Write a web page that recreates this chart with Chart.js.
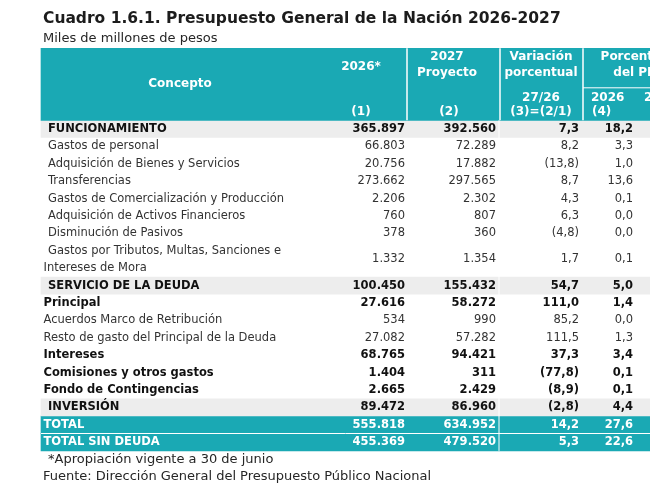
<!DOCTYPE html>
<html lang="es">
<head>
<meta charset="utf-8">
<script src="https://cdn.jsdelivr.net/npm/chart.js@4.4.1/dist/chart.umd.min.js"></script>
<style>
  html, body { margin: 0; padding: 0; background: #fff; }
  #cuadro { display: block; }
</style>
</head>
<body>
<canvas id="cuadro" width="650" height="487"></canvas>
<script>
// Datos del cuadro (miles de millones de pesos)
const conceptos = [
  "FUNCIONAMIENTO",
  "Gastos de personal",
  "Adquisición de Bienes y Servicios",
  "Transferencias",
  "Gastos de Comercialización y Producción",
  "Adquisición de Activos Financieros",
  "Disminución de Pasivos",
  "Gastos por Tributos, Multas, Sanciones e\nIntereses de Mora",
  "SERVICIO DE LA DEUDA",
  "Principal",
  "Acuerdos Marco de Retribución",
  "Resto de gasto del Principal de la Deuda",
  "Intereses",
  "Comisiones y otros gastos",
  "Fondo de Contingencias",
  "INVERSIÓN",
  "TOTAL",
  "TOTAL SIN DEUDA",
];
const valores2026 = [365897, 66803, 20756, 273662, 2206, 760, 378, 1332, 100450, 27616, 534, 27082, 68765, 1404, 2665, 89472, 555818, 455369];
const valores2027 = [392560, 72289, 17882, 297565, 2302, 807, 360, 1354, 155432, 58272, 990, 57282, 94421, 311, 2429, 86960, 634952, 479520];
const variacion = [7.3, 8.2, -13.8, 8.7, 4.3, 6.3, -4.8, 1.7, 54.7, 111.0, 85.2, 111.5, 37.3, -77.8, -8.9, -2.8, 14.2, 5.3];
const pib2026 = [18.2, 3.3, 1.0, 13.6, 0.1, 0.0, 0.0, 0.1, 5.0, 1.4, 0.0, 1.3, 3.4, 0.1, 0.1, 4.4, 27.6, 22.6];

// estilo de cada fila
const tipoFila = ["seccion", "item", "item", "item", "item", "item", "item", "item",
  "seccion", "negrita", "sub", "sub", "negrita", "negrita", "negrita", "seccion", "total", "total"];

const titulo = "Cuadro 1.6.1. Presupuesto General de la Nación 2026-2027";
const subtitulo = "Miles de millones de pesos";
const notas = ["*Apropiación vigente a 30 de junio", "Fuente: Dirección General del Presupuesto Público Nacional"];

// layout
const ANCHO = 650, ALTO = 487;
const ALTO_FILA = 17.4, Y_PRIMERA = 129, ALTO_CAB = 72;
const X_TABLA = 41, X_FIN = 650;
const TEAL = "#1aa9b4";
const FUENTE = "'DejaVu Sans', Verdana, sans-serif";

const miles = (v) => String(v).replace(/\B(?=(\d{3})+(?!\d))/g, ".");
const pct = (v) => {
  const s = Math.abs(v).toFixed(1).replace(".", ",");
  return v < 0 ? `(${s})` : s;
};

// posicion (en filas) de cada concepto
let cursor = 0;
const filas = conceptos.map((c) => {
  const n = c.split("\n").length;
  const centro = cursor + (n - 1) / 2;
  cursor += n;
  return centro;
});

const yMin = -Y_PRIMERA / ALTO_FILA;
const yMax = yMin + ALTO / ALTO_FILA;
const centroCab = -0.5 - ALTO_CAB / ALTO_FILA / 2;

const columnas = [
  { x: 405, textos: valores2026.map(miles) },
  { x: 496, textos: valores2027.map(miles) },
  { x: 579, textos: variacion.map(pct) },
  { x: 633, textos: pib2026.map(pct) },
];

const encabezado = [
  { t: "Concepto", x: 180, dy: 36, a: "center" },
  { t: "2026*", x: 361, dy: 19, a: "center" },
  { t: "(1)", x: 361, dy: 64, a: "center" },
  { t: "2027", x: 447, dy: 9, a: "center" },
  { t: "Proyecto", x: 447, dy: 25, a: "center" },
  { t: "(2)", x: 449, dy: 64, a: "center" },
  { t: "Variación", x: 541, dy: 9, a: "center" },
  { t: "porcentual", x: 541, dy: 25, a: "center" },
  { t: "27/26", x: 541, dy: 50, a: "center" },
  { t: "(3)=(2/1)", x: 541, dy: 64, a: "center" },
  { t: "Porcentaje", x: 637, dy: 9, a: "center" },
  { t: "del PIB", x: 637, dy: 25, a: "center" },
  { t: "2026", x: 591, dy: 50, a: "left" },
  { t: "(4)", x: 592, dy: 64, a: "left" },
  { t: "2027", x: 644, dy: 50, a: "left" },
];

const textoTabla = {
  id: "textoTabla",
  afterDatasetsDraw(chart) {
    const { ctx, scales } = chart;
    const px = (v) => scales.x.getPixelForValue(v);
    const py = (v) => scales.y.getPixelForValue(v);
    const topCab = py(-0.5) - ALTO_CAB;
    const ultima = filas[filas.length - 1];
    ctx.save();

    // lineas blancas del encabezado
    ctx.strokeStyle = "#ffffff";
    ctx.lineWidth = 1.5;
    [407, 500, 583].forEach((x) => {
      ctx.beginPath();
      ctx.moveTo(px(x), topCab);
      ctx.lineTo(px(x), py(-0.5));
      ctx.stroke();
    });
    ctx.lineWidth = 1;
    ctx.beginPath();
    ctx.moveTo(px(583), topCab + 39.5);
    ctx.lineTo(px(X_FIN), topCab + 39.5);
    ctx.stroke();
    // separador en el cuerpo
    ctx.beginPath();
    ctx.moveTo(px(499), py(-0.5));
    ctx.lineTo(px(499), py(ultima + 0.5));
    ctx.stroke();
    ctx.beginPath();
    ctx.moveTo(px(X_TABLA), py(ultima - 0.5));
    ctx.lineTo(px(X_FIN), py(ultima - 0.5));
    ctx.stroke();

    // encabezado
    ctx.fillStyle = "#ffffff";
    ctx.font = `bold 12px ${FUENTE}`;
    ctx.textBaseline = "middle";
    encabezado.forEach((h) => {
      ctx.textAlign = h.a;
      ctx.fillText(h.t, px(h.x), topCab + h.dy);
    });

    // filas
    conceptos.forEach((c, i) => {
      const tipo = tipoFila[i];
      const negrita = tipo !== "item" && tipo !== "sub";
      const color = tipo === "total" ? "#ffffff" : negrita ? "#111111" : "#333333";
      const xEtiqueta = tipo === "seccion" || tipo === "item" ? 48 : 43.5;
      ctx.fillStyle = color;
      ctx.font = `${negrita ? "bold " : ""}11.5px ${FUENTE}`;
      ctx.textAlign = "left";
      const lineas = c.split("\n");
      lineas.forEach((l, k) => {
        const y = py(filas[i] - (lineas.length - 1) / 2 + k);
        ctx.fillText(l, px(k === 0 ? xEtiqueta : 43.5), y);
      });
      ctx.textAlign = "right";
      columnas.forEach((col) => {
        ctx.fillText(col.textos[i], px(col.x), py(filas[i]));
      });
    });

    // titulo, subtitulo y notas
    ctx.textAlign = "left";
    ctx.fillStyle = "#1c1c1c";
    ctx.font = `bold 15.5px ${FUENTE}`;
    ctx.fillText(titulo, 43, 18.5);
    ctx.fillStyle = "#262626";
    ctx.font = `13px ${FUENTE}`;
    ctx.fillText(subtitulo, 43, 38.5);
    ctx.fillText(notas[0], 48, py(ultima + 1));
    ctx.fillText(notas[1], 43, py(ultima + 2));
    ctx.restore();
  },
};

const franja = (idx) => idx.map((i) => ({ x: [X_TABLA, X_FIN], y: filas[i] }));
const indices = (tipo) => tipoFila.map((t, i) => (t === tipo ? i : -1)).filter((i) => i >= 0);

new Chart(document.querySelector("#cuadro"), {
  type: "bar",
  data: {
    datasets: [
      {
        label: "encabezado",
        data: [{ x: [X_TABLA, X_FIN], y: centroCab }],
        backgroundColor: TEAL,
        barThickness: ALTO_CAB,
        grouped: false,
      },
      {
        label: "secciones",
        data: franja(indices("seccion")),
        backgroundColor: "#ededed",
        barThickness: 17,
        grouped: false,
      },
      {
        label: "totales",
        data: franja(indices("total")),
        backgroundColor: TEAL,
        barThickness: 17.4,
        grouped: false,
      },
    ],
  },
  options: {
    indexAxis: "y",
    responsive: false,
    animation: false,
    events: [],
    layout: { padding: 0 },
    plugins: { legend: { display: false }, tooltip: { enabled: false } },
    scales: {
      x: { type: "linear", min: 0, max: ANCHO, offset: false, display: false },
      y: { type: "linear", min: yMin, max: yMax, reverse: true, offset: false, display: false },
    },
  },
  plugins: [textoTabla],
});
</script>
</body>
</html>
